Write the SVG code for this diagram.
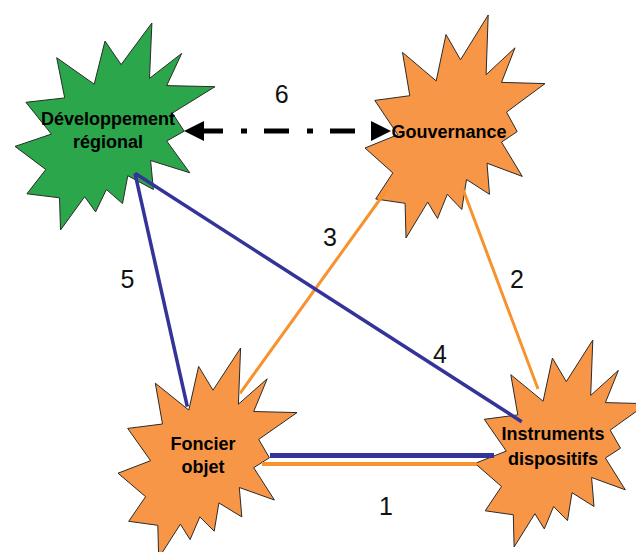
<svg xmlns="http://www.w3.org/2000/svg" width="636" height="552" viewBox="0 0 636 552">
<style>
.burst{stroke:#2a2a2a;stroke-width:1;stroke-linejoin:miter}
.green{fill:#2BA64A}
.orange{fill:#F79646}
.nt{font-family:"Liberation Sans",Arial,sans-serif;font-weight:bold;font-size:18px;fill:#000;text-anchor:middle}
.lbl{font-family:"Liberation Sans",Arial,sans-serif;font-size:25px;fill:#111;text-anchor:middle}
.blue{stroke:#333399;fill:none}
.org{stroke:#F7922E;fill:none}
</style>
<defs>
<marker id="ah" markerUnits="userSpaceOnUse" markerWidth="20" markerHeight="20" refX="0" refY="9" orient="auto-start-reverse" viewBox="0 0 18 18">
<path d="M0,0 L18,9 L0,18 Z" fill="#000"/>
</marker>
</defs>
<rect width="636" height="552" fill="#fff"/>
<g id="node-developpement">
<polygon class="burst green" points="121.1,64.6 151.9,23 149.5,78.4 181.7,53.4 166.7,85.6 215,86.7 172.3,113.1 184.2,131.2 166.7,141 189.8,172.8 150.6,160.5 153.4,189.5 127.8,175.7 122.5,203.6 106.4,189.5 95.6,211.9 84.7,196.7 60.5,230 59.5,197.8 26.9,193.8 45.8,169.5 15,146.4 51.4,134.1 25.9,102.3 64.7,97.9 56.7,57.7 94.2,84.2 105,41.1"/>
<text class="nt" x="108" y="125">Développement</text>
<text class="nt" x="108" y="148">régional</text>
</g>
<g id="node-gouvernance">
<polygon class="burst orange" points="460.5,59.8 488.2,15 486.1,74.7 515,47.8 501.5,82.4 545,83.6 506.5,112.1 517.2,131.6 501.5,142.1 522.3,176.4 487,163.2 489.5,194.3 466.5,179.5 461.8,209.5 447.3,194.3 437.5,218.5 427.7,202.1 406,238 405.1,203.3 375.7,199 392.8,172.9 365,148 397.8,134.7 374.8,100.4 409.8,95.7 402.5,52.4 436.2,80.9 446,34.5"/>
<text class="nt" x="449" y="138">Gouvernance</text>
</g>
<g id="node-foncier">
<polygon class="burst orange" points="213,390.2 240.6,348 238.4,404.2 267.2,378.8 253.7,411.5 297,412.6 258.7,439.4 269.4,457.8 253.7,467.7 274.4,500 239.3,487.5 241.8,516.9 218.9,502.9 214.2,531.2 199.8,516.9 190.1,539.6 180.4,524.2 158.7,558 157.8,525.3 128.7,521.3 145.6,496.7 118,473.2 150.6,460.7 127.7,428.4 162.5,424 155.3,383.2 188.8,410.1 198.6,366.4"/>
<text class="nt" x="203" y="450">Foncier</text>
<text class="nt" x="203" y="473">objet</text>
</g>
<g id="node-instruments">
<polygon class="burst orange" points="566.3,381.6 592.8,340 590.7,395.4 618.4,370.4 605.4,402.6 647,403.7 610.2,430.1 620.5,448.2 605.4,458 625.3,489.8 591.6,477.5 594,506.5 572,492.7 567.5,520.6 553.6,506.5 544.3,528.9 534.9,513.7 514.1,547 513.3,514.8 485.2,510.8 501.5,486.5 475,463.4 506.3,451.1 484.3,419.3 517.8,414.9 510.8,374.7 543.1,401.2 552.4,358.1"/>
<text class="nt" x="553" y="440">Instruments</text>
<text class="nt" x="553" y="465">dispositifs</text>
</g>
<g id="connectors">
<line class="blue" x1="270" y1="455.5" x2="494" y2="455.5" stroke-width="5"/>
<line class="org" x1="262" y1="464" x2="477" y2="464" stroke-width="4"/>
<line class="org" x1="463.3" y1="190" x2="538" y2="389" stroke-width="3"/>
<line class="org" x1="386.7" y1="190" x2="240" y2="393.3" stroke-width="3"/>
<line class="blue" x1="135" y1="173.3" x2="521.7" y2="421.7" stroke-width="3.5"/>
<line class="blue" x1="135" y1="173.3" x2="187.3" y2="406.7" stroke-width="3.5"/>
<line x1="204" y1="131" x2="371" y2="131" stroke="#000" stroke-width="5" stroke-dasharray="25 18 6 17" stroke-dashoffset="6" marker-start="url(#ah)" marker-end="url(#ah)"/>
</g>
<g id="labels">
<text class="lbl" x="386" y="515">1</text>
<text class="lbl" x="517" y="288">2</text>
<text class="lbl" x="330" y="246">3</text>
<text class="lbl" x="440" y="363">4</text>
<text class="lbl" x="127.5" y="288">5</text>
<text class="lbl" x="281.7" y="103">6</text>
</g>
</svg>
